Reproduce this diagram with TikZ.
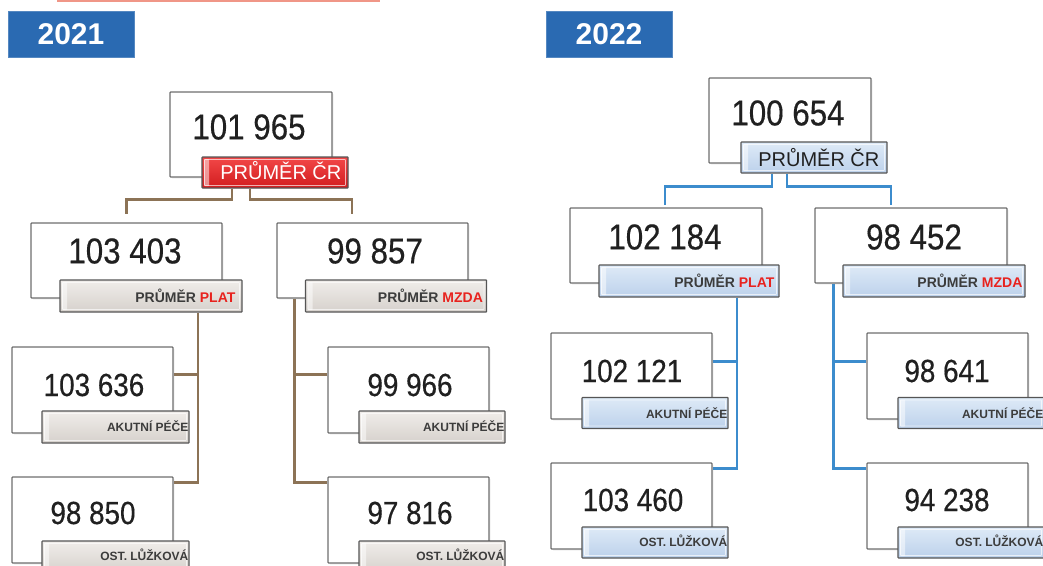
\documentclass[tikz,border=0pt]{standalone}
\usepackage{fontspec}
\setmainfont{Liberation Sans}
\newfontfamily\numfont[FakeStretch=0.87,FakeBold=0.4]{Liberation Sans}
\usetikzlibrary{shadows}
\pgfdeclarelayer{background}
\pgfsetlayers{background,main}
\definecolor{titleblue}{RGB}{42,106,178}
\definecolor{salmon}{RGB}{240,150,135}
\definecolor{boxline}{RGB}{110,110,110}
\definecolor{lblline}{RGB}{85,85,85}
\definecolor{numtext}{RGB}{32,32,32}
\definecolor{lbltxt}{RGB}{60,60,60}
\definecolor{accred}{RGB}{232,34,30}
\definecolor{brownc}{RGB}{140,115,86}
\definecolor{bluec}{RGB}{60,140,205}
\definecolor{greytop}{RGB}{240,237,234}
\definecolor{greybot}{RGB}{214,209,204}
\definecolor{bluetop}{RGB}{222,234,247}
\definecolor{bluebot}{RGB}{188,209,235}
\definecolor{redtop}{RGB}{242,72,72}
\definecolor{redbot}{RGB}{210,28,30}
\begin{document}
\begin{tikzpicture}[x=1pt,y=-1pt,
  outer/.style={draw=boxline, line width=1.3pt, fill=white, rectangle, rounded corners=0.8pt, inner sep=0pt,
    drop shadow={opacity=0.12, shadow xshift=1.5pt, shadow yshift=-1.5pt}},
  bevel/.style={path picture={
    \fill[white,opacity=0.5] ([shift={(2pt,-2pt)}]path picture bounding box.north west) rectangle ([shift={(7pt,2pt)}]path picture bounding box.south west);
    \draw[white,opacity=0.65,line width=0.8pt] ([shift={(2.5pt,-2.5pt)}]path picture bounding box.north west) rectangle ([shift={(-2.5pt,2.5pt)}]path picture bounding box.south east);
  }},
  lbl/.style={draw=lblline, line width=1.2pt, rectangle, rounded corners=0.6pt, inner sep=0pt, minimum height=31pt, bevel},
  greylbl/.style={lbl, top color=greytop, bottom color=greybot},
  bluelbl/.style={lbl, top color=bluetop, bottom color=bluebot},
  redlbl/.style={lbl, top color=redtop, bottom color=redbot},
  num/.style={font=\numfont\fontsize{36}{40}\selectfont, text=numtext, inner sep=0pt},
  numsm/.style={font=\numfont\fontsize{32}{36}\selectfont, text=numtext, inner sep=0pt},
  midtxt/.style={font=\bfseries\fontsize{14}{16}\selectfont, text=lbltxt, inner sep=0pt, anchor=base east},
  smtxt/.style={font=\bfseries\fontsize{12}{14}\selectfont, text=lbltxt, inner sep=0pt, anchor=base east},
  crtxt/.style={font=\fontsize{20}{22}\selectfont, inner sep=0pt, anchor=base east},
  titlebox/.style={fill=titleblue, draw=titleblue!80!white, line width=0.6pt, text=white, font=\bfseries\fontsize{30}{32}\selectfont, minimum width=126pt, minimum height=46pt, inner sep=0pt},
  c21/.style={draw=brownc, line width=2.6pt},
  c22/.style={draw=bluec, line width=2.6pt}
]
\useasboundingbox (0,0) rectangle (1043,565);
\fill[salmon] (57,0) rectangle (380,1.5);

% titles
\node[titlebox] (Y1) at (71,34) {2021};
\node[titlebox] (Y2) at (609,34) {2022};

% ===== 2021 =====
\node[outer, minimum width=162pt, minimum height=85pt] (T1) at (251,134.5) {};
\node[redlbl, minimum width=146pt] (T1l) at (275,172.5) {};
\node[num] (T1n) at (249,127) {101 965};
\node[crtxt, text=white] (T1t) at ([xshift=-7pt,yshift=9pt]T1l.south east) {PRŮMĚR ČR};

\node[outer, minimum width=191pt, minimum height=75pt] (M1L) at (126.5,260.5) {};
\node[greylbl, minimum width=182pt, minimum height=32pt] (M1Ll) at (151,296) {};
\node[num] (M1Ln) at (125,251) {103 403};
\node[midtxt] (M1Lt) at ([xshift=-7pt,yshift=10pt]M1Ll.south east) {PRŮMĚR \textcolor{accred}{PLAT}};

\node[outer, minimum width=191pt, minimum height=75pt] (M1R) at (372.5,260.5) {};
\node[greylbl, minimum width=181pt, minimum height=32pt] (M1Rl) at (396,296) {};
\node[num] (M1Rn) at (375,251) {99 857};
\node[midtxt] (M1Rt) at ([xshift=-4pt,yshift=10pt]M1Rl.south east) {PRŮMĚR \textcolor{accred}{MZDA}};

\node[outer, minimum width=161pt, minimum height=86pt] (B1LA) at (92.5,390) {};
\node[greylbl, minimum width=147pt, minimum height=32pt] (B1LAl) at (115.5,427) {};
\node[numsm] (B1LAn) at (94,385) {103 636};
\node[smtxt] (B1LAt) at ([xshift=-1pt,yshift=12pt]B1LAl.south east) {AKUTNÍ PÉČE};

\node[outer, minimum width=161pt, minimum height=86pt] (B1LO) at (92.5,520) {};
\node[greylbl, minimum width=147pt, minimum height=32pt] (B1LOl) at (115.5,557) {};
\node[numsm] (B1LOn) at (93,513) {98 850};
\node[smtxt] (B1LOt) at ([xshift=-1pt,yshift=13pt]B1LOl.south east) {OST. LŮŽKOVÁ};

\node[outer, minimum width=161pt, minimum height=86pt] (B1RA) at (408.5,390) {};
\node[greylbl, minimum width=146pt, minimum height=32pt] (B1RAl) at (432,427) {};
\node[numsm] (B1RAn) at (410,385) {99 966};
\node[smtxt] (B1RAt) at ([xshift=-1pt,yshift=12pt]B1RAl.south east) {AKUTNÍ PÉČE};

\node[outer, minimum width=161pt, minimum height=86pt] (B1RO) at (408.5,520) {};
\node[greylbl, minimum width=146pt, minimum height=32pt] (B1ROl) at (432,557) {};
\node[numsm] (B1ROn) at (410,513) {97 816};
\node[smtxt] (B1ROt) at ([xshift=-1pt,yshift=13pt]B1ROl.south east) {OST. LŮŽKOVÁ};

% ===== 2022 =====
\node[outer, minimum width=162pt, minimum height=85pt] (T2) at (790,120.5) {};
\node[bluelbl, minimum width=146pt] (T2l) at (814,157.5) {};
\node[num] (T2n) at (788,113) {100 654};
\node[crtxt, text=numtext] (T2t) at ([xshift=-8pt,yshift=7pt]T2l.south east) {PRŮMĚR ČR};

\node[outer, minimum width=192pt, minimum height=75pt] (M2L) at (666,245.5) {};
\node[bluelbl, minimum width=180pt, minimum height=32pt] (M2Ll) at (689,281) {};
\node[num] (M2Ln) at (665,237) {102 184};
\node[midtxt] (M2Lt) at ([xshift=-5pt,yshift=10pt]M2Ll.south east) {PRŮMĚR \textcolor{accred}{PLAT}};

\node[outer, minimum width=192pt, minimum height=75pt] (M2R) at (911,245.5) {};
\node[bluelbl, minimum width=182pt, minimum height=32pt] (M2Rl) at (934,281) {};
\node[num] (M2Rn) at (914,237) {98 452};
\node[midtxt] (M2Rt) at ([xshift=-3pt,yshift=10pt]M2Rl.south east) {PRŮMĚR \textcolor{accred}{MZDA}};

\node[outer, minimum width=161pt, minimum height=86pt] (B2LA) at (631.5,376) {};
\node[bluelbl, minimum width=146pt] (B2LAl) at (655,413) {};
\node[numsm] (B2LAn) at (632,371) {102 121};
\node[smtxt] (B2LAt) at ([xshift=-1pt,yshift=11pt]B2LAl.south east) {AKUTNÍ PÉČE};

\node[outer, minimum width=161pt, minimum height=86pt] (B2LO) at (631.5,506) {};
\node[bluelbl, minimum width=146pt] (B2LOl) at (655,542.5) {};
\node[numsm] (B2LOn) at (633,500) {103 460};
\node[smtxt] (B2LOt) at ([xshift=-1pt,yshift=12pt]B2LOl.south east) {OST. LŮŽKOVÁ};

\node[outer, minimum width=161pt, minimum height=86pt] (B2RA) at (947.5,376) {};
\node[bluelbl, minimum width=146pt] (B2RAl) at (971,413) {};
\node[numsm] (B2RAn) at (947,371) {98 641};
\node[smtxt] (B2RAt) at ([xshift=-1pt,yshift=11pt]B2RAl.south east) {AKUTNÍ PÉČE};

\node[outer, minimum width=161pt, minimum height=86pt] (B2RO) at (947.5,506) {};
\node[bluelbl, minimum width=146pt] (B2ROl) at (971,542.5) {};
\node[numsm] (B2ROn) at (947,500) {94 238};
\node[smtxt] (B2ROt) at ([xshift=-1pt,yshift=12pt]B2ROl.south east) {OST. LŮŽKOVÁ};

% ===== connectors =====
\begin{pgfonlayer}{background}
\draw[c21] ([xshift=-43pt]T1l.south) -- ++(0,11) -| ([yshift=8pt]M1L.north);
\draw[c21] ([xshift=-25pt]T1l.south) -- ++(0,11) -| ([xshift=-20.5pt,yshift=8pt]M1R.north);
\draw[c21] ([xshift=47pt]M1Ll.south) |- ([yshift=-6pt]B1LO.north east);
\draw[c21] ([yshift=-28pt]B1LA.north east) -| ([xshift=47pt]M1Ll.south);
\draw[c21] ([xshift=18pt]M1R.south west) |- ([yshift=-6pt]B1RO.north west);
\draw[c21] ([yshift=-28pt]B1RA.north west) -| ([xshift=18pt]M1R.south west);

\draw[c22] ([xshift=-42pt]T2l.south) -- ++(0,13) -| ([xshift=-1pt,yshift=2pt]M2L.north);
\draw[c22] ([xshift=-27pt]T2l.south) -- ++(0,13) -| ([xshift=-20pt,yshift=2pt]M2R.north);
\draw[c22] ([xshift=48pt]M2Ll.south) |- ([yshift=-6pt]B2LO.north east);
\draw[c22] ([yshift=-29pt]B2LA.north east) -| ([xshift=48pt]M2Ll.south);
\draw[c22] ([xshift=19pt]M2R.south west) |- ([yshift=-6pt]B2RO.north west);
\draw[c22] ([yshift=-29pt]B2RA.north west) -| ([xshift=19pt]M2R.south west);
\end{pgfonlayer}
\end{tikzpicture}
\end{document}
